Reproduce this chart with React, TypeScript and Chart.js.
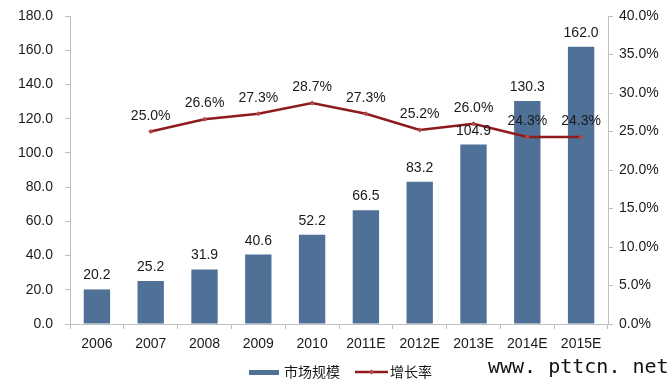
import React, { useEffect, useRef } from "react";
import { Chart, registerables } from "chart.js";

Chart.register(...registerables);

const categories = ["2006", "2007", "2008", "2009", "2010", "2011E", "2012E", "2013E", "2014E", "2015E"];
const marketSize = [20.2, 25.2, 31.9, 40.6, 52.2, 66.5, 83.2, 104.9, 130.3, 162.0];
const growthRate = [null, 25.0, 26.6, 27.3, 28.7, 27.3, 25.2, 26.0, 24.3, 24.3];
const barLegend = "市场规模";
const lineLegend = "增长率";
const watermark = "www. pttcn. net";

const BAR_COLOR = "#4F7197";
const LINE_COLOR = "#8E1B1F";
const AXIS_COLOR = "#BFBFBF";
const TEXT_COLOR = "#1a1a1a";
const FONT = "Liberation Sans, Arial, sans-serif";

const labelPlugin = {
  id: "labelPlugin",
  afterDatasetsDraw(chart: any) {
    const ctx = chart.ctx;
    ctx.save();
    ctx.fillStyle = TEXT_COLOR;
    ctx.font = `14px ${FONT}`;
    ctx.textAlign = "center";
    ctx.textBaseline = "alphabetic";
    chart.data.datasets.forEach((ds: any, di: number) => {
      const meta = chart.getDatasetMeta(di);
      meta.data.forEach((el: any, i: number) => {
        const v = ds.data[i];
        if (v === null || v === undefined) return;
        if (ds.type === "bar") {
          ctx.fillText(v.toFixed(1), el.x, el.y - 10);
        } else {
          ctx.fillText(v.toFixed(1) + "%", el.x, el.y - 12);
        }
      });
    });
    ctx.restore();
  },
  afterDraw(chart: any) {
    const ctx = chart.ctx;
    ctx.save();
    // legend
    ctx.fillStyle = BAR_COLOR;
    ctx.fillRect(249, 370, 30, 5);
    ctx.fillStyle = TEXT_COLOR;
    ctx.font = `14px "Noto Sans CJK SC", sans-serif`;
    ctx.textBaseline = "middle";
    ctx.textAlign = "left";
    ctx.fillText(barLegend, 284, 372);
    ctx.strokeStyle = LINE_COLOR;
    ctx.lineWidth = 2.5;
    ctx.beginPath();
    ctx.moveTo(355, 372);
    ctx.lineTo(388, 372);
    ctx.stroke();
    ctx.fillStyle = "#B04848";
    ctx.beginPath();
    ctx.moveTo(371.5, 369.5);
    ctx.lineTo(374, 372);
    ctx.lineTo(371.5, 374.5);
    ctx.lineTo(369, 372);
    ctx.closePath();
    ctx.fill();
    ctx.fillStyle = TEXT_COLOR;
    ctx.fillText(lineLegend, 390, 372);
    // watermark
    ctx.font = `20px "DejaVu Sans Mono", monospace`;
    ctx.textBaseline = "alphabetic";
    ctx.fillStyle = "#111";
    ctx.fillText(watermark, 488, 373);
    ctx.restore();
  },
};

export default function App() {
  const ref = useRef<HTMLCanvasElement | null>(null);
  useEffect(() => {
    if (!ref.current) return;
    const chart = new Chart(ref.current, {
      data: {
        labels: categories,
        datasets: [
          {
            type: "line",
            label: lineLegend,
            data: growthRate,
            yAxisID: "y1",
            borderColor: LINE_COLOR,
            borderWidth: 2.5,
            pointStyle: "rectRot",
            pointRadius: 2.5,
            pointBackgroundColor: "#B04848",
            pointBorderColor: "#B04848",
            pointBorderWidth: 0,
            tension: 0,
            order: 0,
          } as any,
          {
            type: "bar",
            label: barLegend,
            data: marketSize,
            yAxisID: "y",
            backgroundColor: BAR_COLOR,
            categoryPercentage: 1,
            barPercentage: 0.49,
            order: 1,
          } as any,
        ],
      },
      options: {
        responsive: false,
        animation: false,
        layout: { padding: { top: 16, left: 0, right: 0, bottom: 0 } },
        plugins: { legend: { display: false }, tooltip: { enabled: false } },
        scales: {
          x: {
            offset: true,
            grid: { offset: true, drawOnChartArea: false, drawTicks: true, tickLength: 5, color: AXIS_COLOR },
            border: { display: true, color: AXIS_COLOR, width: 1 },
            ticks: { color: TEXT_COLOR, font: { family: FONT, size: 14 }, padding: 7, maxRotation: 0, autoSkip: false },
            afterFit: (s: any) => { s.height = 65; s.paddingLeft = 0; s.paddingRight = 0; },
          },
          y: {
            position: "left",
            min: 0,
            max: 180,
            grid: { drawOnChartArea: false, drawTicks: true, tickLength: 5, color: AXIS_COLOR },
            border: { display: true, color: AXIS_COLOR, width: 1 },
            ticks: { stepSize: 20, color: TEXT_COLOR, font: { family: FONT, size: 14 }, padding: 12, callback: (v: any) => Number(v).toFixed(1) },
            afterFit: (s: any) => { s.width = 70; s.paddingTop = 0; s.paddingBottom = 0; },
          },
          y1: {
            position: "right",
            min: 0,
            max: 40,
            grid: { drawOnChartArea: false, drawTicks: true, tickLength: 5, color: AXIS_COLOR },
            border: { display: true, color: AXIS_COLOR, width: 1 },
            ticks: { stepSize: 5, color: TEXT_COLOR, font: { family: FONT, size: 14 }, padding: 6, callback: (v: any) => Number(v).toFixed(1) + "%" },
            afterFit: (s: any) => { s.width = 63; s.paddingTop = 0; s.paddingBottom = 0; },
          },
        },
      } as any,
      plugins: [labelPlugin],
    });
    return () => chart.destroy();
  }, []);
  return (
    <div style={{ position: "absolute", left: 0, top: 0, width: 671, height: 389, background: "#fff" }}>
      <canvas ref={ref} width={671} height={389} style={{ display: "block" }} />
    </div>
  );
}
